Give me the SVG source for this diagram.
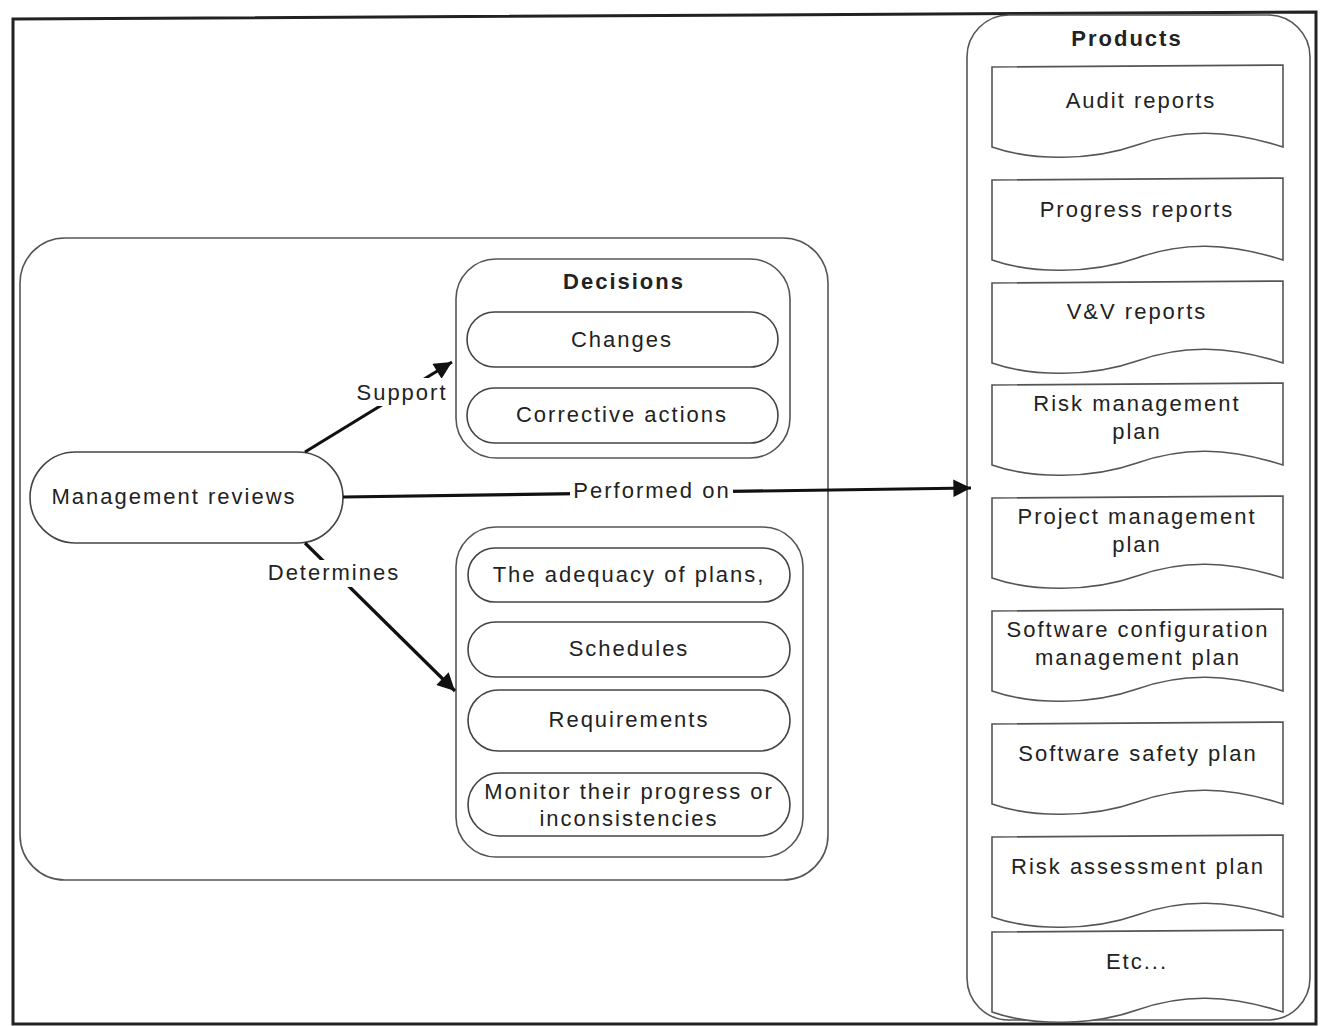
<svg xmlns="http://www.w3.org/2000/svg" width="1322" height="1026" viewBox="0 0 1322 1026">
<defs>
<style>
.t{font-family:"Liberation Sans",Arial,sans-serif;font-size:22px;letter-spacing:2px;fill:#222;text-anchor:middle}
.b{font-weight:bold}
.box{fill:none;stroke:#555;stroke-width:1.6}
.pill{fill:#fff;stroke:#444;stroke-width:1.6}
.doc{fill:#fff;stroke:#555;stroke-width:1.6}
.con{fill:none;stroke:#111;stroke-width:3.2}
</style>
<path id="docshape" d="M0,0 L291,-2 L291,80 C235,62 190,62 145,78 C100,94 40,94 0,80 Z"/>
<marker id="arr" viewBox="0 0 10 10" refX="10" refY="5" markerWidth="9" markerHeight="5.5" markerUnits="strokeWidth" orient="auto">
<path d="M0,0 L10,5 L0,10 Z" fill="#111"/>
</marker>
</defs>
<rect x="0" y="0" width="1322" height="1026" fill="#fff"/>
<path d="M13,19 L1316,12 L1316,1024 L13,1024 Z" fill="none" stroke="#222" stroke-width="3"/>

<g id="products">
<rect class="box" x="967" y="15" width="343" height="1005" rx="42"/>
<text class="t b" x="1127" y="46">Products</text>
</g>
<g id="doc-audit"><use href="#docshape" class="doc" x="992" y="67"/><text class="t" x="1141" y="108">Audit reports</text></g>
<g id="doc-progress"><use href="#docshape" class="doc" x="992" y="180"/><text class="t" x="1137" y="217">Progress reports</text></g>
<g id="doc-vv"><use href="#docshape" class="doc" x="992" y="283"/><text class="t" x="1137" y="319">V&amp;V reports</text></g>
<g id="doc-risk"><use href="#docshape" class="doc" x="992" y="385"/><text class="t" x="1137" y="411">Risk management</text><text class="t" x="1137" y="439">plan</text></g>
<g id="doc-pm"><use href="#docshape" class="doc" x="992" y="498"/><text class="t" x="1137" y="524">Project management</text><text class="t" x="1137" y="552">plan</text></g>
<g id="doc-scm"><use href="#docshape" class="doc" x="992" y="611"/><text class="t" x="1138" y="637">Software configuration</text><text class="t" x="1138" y="665">management plan</text></g>
<g id="doc-safety"><use href="#docshape" class="doc" x="992" y="724"/><text class="t" x="1138" y="761">Software safety plan</text></g>
<g id="doc-riskassess"><use href="#docshape" class="doc" x="992" y="837"/><text class="t" x="1138" y="874">Risk assessment plan</text></g>
<g id="doc-etc"><use href="#docshape" class="doc" x="992" y="932"/><text class="t" x="1137" y="969">Etc...</text></g>

<g id="review-area"><rect class="box" x="20" y="238" width="808" height="642" rx="45"/></g>

<g id="decisions">
<rect class="box" x="456" y="259" width="334" height="199" rx="40"/>
<text class="t b" x="624" y="289">Decisions</text>
</g>
<g id="changes"><rect class="pill" x="467" y="312" width="311" height="55" rx="27.5"/><text class="t" x="622" y="347">Changes</text></g>
<g id="corrective"><rect class="pill" x="467" y="388" width="311" height="55" rx="27.5"/><text class="t" x="622" y="422">Corrective actions</text></g>

<g id="determined">
<rect class="box" x="456" y="527" width="347" height="330" rx="40"/>
</g>
<g id="adequacy"><rect class="pill" x="468" y="548" width="322" height="54" rx="27"/><text class="t" x="629" y="582">The adequacy of plans,</text></g>
<g id="schedules"><rect class="pill" x="468" y="622" width="322" height="55" rx="27.5"/><text class="t" x="629" y="656">Schedules</text></g>
<g id="requirements"><rect class="pill" x="468" y="690" width="322" height="61" rx="30.5"/><text class="t" x="629" y="727">Requirements</text></g>
<g id="monitor"><rect class="pill" x="468" y="773" width="322" height="63" rx="31.5"/><text class="t" x="629" y="799">Monitor their progress or</text><text class="t" x="629" y="826">inconsistencies</text></g>

<g id="management-reviews"><rect class="pill" x="30" y="452" width="313" height="91" rx="45.5"/><text class="t" x="174" y="504">Management reviews</text></g>

<g id="connectors">
<path class="con" d="M305,452 L452,362" marker-end="url(#arr)"/>
<rect x="352" y="378" width="98" height="28" fill="#fff"/>
<text class="t" x="402" y="400">Support</text>
<path class="con" d="M343,497 L971,488" marker-end="url(#arr)"/>
<rect x="570" y="478" width="163" height="26" fill="#fff"/>
<text class="t" x="652" y="498">Performed on</text>
<path class="con" d="M305,543 L455,691" marker-end="url(#arr)"/>
<rect x="262" y="560" width="143" height="27" fill="#fff"/>
<text class="t" x="334" y="580">Determines</text>
</g>
</svg>
